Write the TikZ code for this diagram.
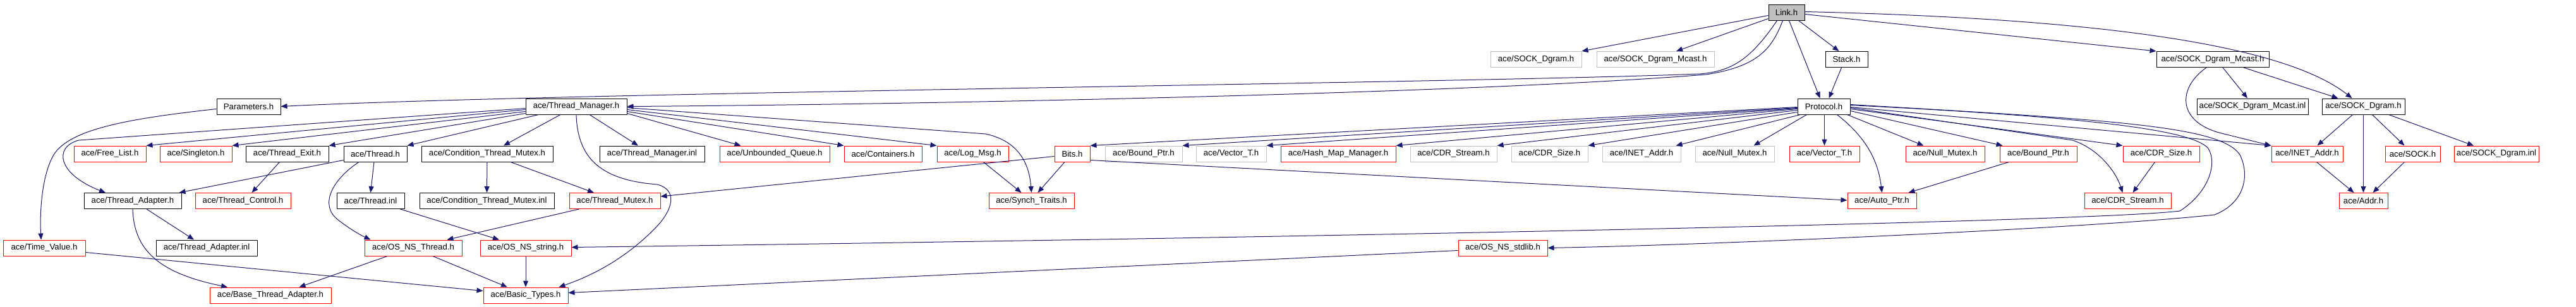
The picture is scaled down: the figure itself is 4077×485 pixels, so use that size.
\documentclass[tikz,border=0pt]{standalone}
\usepackage{fontspec}
\setmainfont{Liberation Sans}
\usetikzlibrary{arrows.meta}
\definecolor{edgec}{HTML}{191970}
\definecolor{graybd}{HTML}{BFBFBF}
\newcommand\nodefont{\fontsize{13.2pt}{15pt}\selectfont}
\newcommand\nd[6]{\node[#1, minimum width=#5pt] (#2) at (#3,#4) {#6};}
\tikzset{
  nb/.style={draw, rectangle, minimum height=25pt, inner sep=0pt, line width=1pt, font=\nodefont, text=black},
  blk/.style={nb, draw=black},
  rd/.style={nb, draw=red},
  gr/.style={nb, draw=graybd},
  cur/.style={nb, draw=black, fill=graybd},
  dep/.style={draw=edgec, line width=1pt, -{Triangle[length=10pt,width=8pt]}}
}
\begin{document}
\begin{tikzpicture}[x=1pt,y=-1pt]
\path[use as bounding box, fill=white] (0,0) rectangle (4077,485);
% row 0
\nd{cur}{link}{2827.5}{19.5}{57}{Link.h}
% row 1
\nd{gr}{sdgg}{2431}{94}{144}{ace/SOCK\_Dgram.h}
\nd{gr}{sdmg}{2620}{94}{186}{ace/SOCK\_Dgram\_Mcast.h}
\nd{blk}{stack}{2922.5}{94}{67}{Stack.h}
\nd{blk}{sdm}{3502}{94}{178}{ace/SOCK\_Dgram\_Mcast.h}
% row 2
\nd{blk}{params}{393.5}{168.5}{101}{Parameters.h}
\nd{blk}{tm}{912}{168.5}{160}{ace/Thread\_Manager.h}
\nd{blk}{proto}{2886.5}{168.5}{83}{Protocol.h}
\nd{blk}{sdminl}{3565}{168.5}{176}{ace/SOCK\_Dgram\_Mcast.inl}
\nd{blk}{sdg}{3740.5}{168.5}{131}{ace/SOCK\_Dgram.h}
% row 3
\nd{rd}{fl}{174}{243.5}{114}{ace/Free\_List.h}
\nd{rd}{sing}{310}{243.5}{114}{ace/Singleton.h}
\nd{blk}{texit}{454.5}{243.5}{131}{ace/Thread\_Exit.h}
\nd{blk}{thr}{594}{243.5}{100}{ace/Thread.h}
\nd{blk}{ctm}{771}{243.5}{208}{ace/Condition\_Thread\_Mutex.h}
\nd{blk}{tminl}{1032}{243.5}{166}{ace/Thread\_Manager.inl}
\nd{rd}{uq}{1226}{243.5}{174}{ace/Unbounded\_Queue.h}
\nd{rd}{cont}{1397.5}{243.5}{123}{ace/Containers.h}
\nd{rd}{log}{1539.5}{243.5}{113}{ace/Log\_Msg.h}
\nd{rd}{bits}{1697}{243.5}{56}{Bits.h}
\nd{gr}{bpg}{1810}{243.5}{122}{ace/Bound\_Ptr.h}
\nd{gr}{vtg}{1948.5}{243.5}{111}{ace/Vector\_T.h}
\nd{rd}{hmm}{2118}{243.5}{182}{ace/Hash\_Map\_Manager.h}
\nd{gr}{cdrsg}{2300.5}{243.5}{137}{ace/CDR\_Stream.h}
\nd{gr}{cdrzg}{2452.5}{243.5}{121}{ace/CDR\_Size.h}
\nd{gr}{inetg}{2598}{243.5}{124}{ace/INET\_Addr.h}
\nd{gr}{nmg}{2745.5}{243.5}{125}{ace/Null\_Mutex.h}
\nd{rd}{vt}{2887.5}{243.5}{111}{ace/Vector\_T.h}
\nd{rd}{nm}{3078.5}{243.5}{125}{ace/Null\_Mutex.h}
\nd{rd}{bp}{3226}{243.5}{122}{ace/Bound\_Ptr.h}
\nd{rd}{cdrz}{3420.5}{243.5}{121}{ace/CDR\_Size.h}
\nd{rd}{inet}{3651.5}{243.5}{113}{ace/INET\_Addr.h}
\nd{rd}{sock}{3818.5}{243.5}{87}{ace/SOCK.h}
\nd{rd}{sdginl}{3951}{243.5}{134}{ace/SOCK\_Dgram.inl}
% row 4
\nd{blk}{ta}{210}{318}{154}{ace/Thread\_Adapter.h}
\nd{rd}{tc}{384.5}{318}{151}{ace/Thread\_Control.h}
\nd{blk}{thrinl}{586.5}{318}{107}{ace/Thread.inl}
\nd{blk}{ctminl}{770.5}{318}{213}{ace/Condition\_Thread\_Mutex.inl}
\nd{rd}{tmx}{973}{318}{144}{ace/Thread\_Mutex.h}
\nd{rd}{st}{1632.5}{318}{135}{ace/Synch\_Traits.h}
\nd{rd}{ap}{2978.5}{318}{109}{ace/Auto\_Ptr.h}
\nd{rd}{cdrs}{3367.5}{318}{137}{ace/CDR\_Stream.h}
\nd{rd}{addr}{3740.5}{318}{77}{ace/Addr.h}
% row 5
\nd{rd}{tv}{70}{392.5}{130}{ace/Time\_Value.h}
\nd{blk}{tainl}{327}{392.5}{160}{ace/Thread\_Adapter.inl}
\nd{rd}{ost}{654}{392.5}{154}{ace/OS\_NS\_Thread.h}
\nd{rd}{oss}{832}{392.5}{144}{ace/OS\_NS\_string.h}
\nd{rd}{osl}{2378.5}{392.5}{141}{ace/OS\_NS\_stdlib.h}
% row 6
\nd{rd}{bta}{428}{467.5}{192}{ace/Base\_Thread\_Adapter.h}
\nd{rd}{bt}{832}{467.5}{134}{ace/Basic\_Types.h}

% ---- edges from Link.h
\draw[dep] ([yshift=-5pt]link.west) -- (sdgg.north east);
\draw[dep] ([yshift=-10pt]link.west) -- ([xshift=33pt]sdmg.north);
\draw[dep] ([xshift=-15pt]link.south) .. controls (2770,95) and (2740,113) .. (2690,117) .. controls (2300,132) and (900,146) .. (params.east);
\draw[dep] ([xshift=-6pt]link.south) .. controls (2805,75) and (2785,105) .. (2700,118) .. controls (2300,150) and (1400,166) .. (tm.east);
\draw[dep] ([xshift=4pt]link.south) -- ([xshift=-6pt]proto.north);
\draw[dep] ([xshift=-10pt]link.south east) -- ([xshift=-12pt]stack.north);
\draw[dep] ([yshift=-3pt]link.east) -- (sdm.north west);
\draw[dep] ([yshift=1pt]link.east) .. controls (3350,30) and (3620,75) .. ([xshift=-18pt]sdg.north);
\draw[dep] ([xshift=-8pt]stack.south) -- ([xshift=8pt]proto.north);
% ---- SOCK_Dgram_Mcast / SOCK_Dgram
\draw[dep] ([xshift=16pt]sdm.south) -- ([xshift=-8pt]sdminl.north);
\draw[dep] ([xshift=49pt]sdm.south) -- ([xshift=-40pt]sdg.north);
\draw[dep] ([xshift=-10pt]sdm.south) .. controls (3445,140) and (3445,195) .. (3520,212) -- (inet.north west);
\draw[dep] ([xshift=-17pt]sdg.south) -- ([xshift=16pt]inet.north);
\draw[dep] (sdg.south) -- (addr.north);
\draw[dep] ([xshift=14pt]sdg.south) -- ([xshift=-13pt]sock.north);
\draw[dep] ([xshift=40pt]sdg.south) -- ([xshift=-36pt]sdginl.north);
\draw[dep] ([xshift=15pt]inet.south) -- ([xshift=-15pt]addr.north);
\draw[dep] ([xshift=-13pt]sock.south) -- ([xshift=15pt]addr.north);
% ---- Protocol.h
\draw[dep] ([yshift=-1pt]proto.west) -- (bits.north east);
\draw[dep] ([yshift=-2pt]proto.west) -- (bpg.north east);
\draw[dep] ([yshift=-3pt]proto.west) -- (vtg.north east);
\draw[dep] ([yshift=-4pt]proto.west) -- (hmm.north east);
\draw[dep] ([yshift=-6pt]proto.west) -- (cdrsg.north east);
\draw[dep] ([yshift=-9pt]proto.west) -- (cdrzg.north east);
\draw[dep] ([xshift=5pt]proto.south west) -- ([xshift=-8pt]inetg.north east);
\draw[dep] ([xshift=15pt]proto.south west) -- ([xshift=-33pt]nmg.north east);
\draw[dep] ([xshift=1pt]proto.south) -- (vt.north);
\draw[dep] ([xshift=21pt]proto.south) .. controls (2950,215) and (2972,250) .. (ap.north);
\draw[dep] ([xshift=-5pt]proto.south east) -- ([xshift=29pt]nm.north west);
\draw[dep] ([yshift=-7pt]proto.east) -- ([xshift=5pt]bp.north west);
\draw[dep] ([yshift=-4pt]proto.east) -- (cdrz.north west);
\draw[dep] ([yshift=-2pt]proto.east) -- (3280,222) .. controls (3320,235) and (3348,270) .. ([xshift=-8pt]cdrs.north);
\draw[dep] ([yshift=-1pt]proto.east) -- (inet.north west);
\draw[dep] ([yshift=2pt]proto.east) .. controls (3300,185) and (3470,205) .. (3495,235) .. controls (3510,260) and (3495,305) .. (3450,334) .. controls (3300,352) and (2000,377) .. ([yshift=1pt]oss.east);
\draw[dep] ([yshift=3pt]proto.east) .. controls (3350,190) and (3515,200) .. (3545,245) .. controls (3560,275) and (3555,320) .. (3505,340) .. controls (3300,362) and (2700,388) .. (osl.east);
\draw[dep] ([xshift=-10pt]cdrz.south) -- ([xshift=8pt]cdrs.north);
\draw[dep] ([xshift=15pt]bp.south west) -- ([xshift=-13pt]ap.north east);
% ---- Thread_Manager.h
\draw[dep] ([yshift=-3pt]tm.west) -- (125,222) .. controls (85,232) and (90,275) .. ([xshift=-43pt]ta.north);
\draw[dep] ([yshift=-5pt]tm.west) -- (fl.north east);
\draw[dep] ([yshift=-8pt]tm.west) -- (sing.north east);
\draw[dep] ([yshift=-11pt]tm.west) -- (texit.north east);
\draw[dep] ([xshift=21pt]tm.south west) -- (thr.north east);
\draw[dep] ([xshift=-25pt]tm.south) -- ([xshift=26pt]ctm.north);
\draw[dep] ([xshift=21pt]tm.south) -- ([xshift=-22pt]tminl.north);
\draw[dep] (tm.south) .. controls (914,250) and (950,285) .. (1040,292) .. controls (1072,300) and (1066,330) .. (1040,358) .. controls (1000,400) and (950,432) .. ([xshift=-15pt]bt.north east);
\draw[dep] ([yshift=-11pt]tm.east) -- ([xshift=34pt]uq.north west);
\draw[dep] ([yshift=-8pt]tm.east) -- (cont.north west);
\draw[dep] ([yshift=-5pt]tm.east) -- (log.north west);
\draw[dep] ([yshift=-2pt]tm.east) -- (1560,212) .. controls (1605,222) and (1628,250) .. (st.north);
% ---- others
\draw[dep] (ctm) -- (ctminl);
\draw[dep] ([xshift=37pt]ctm.south) -- ([xshift=-33pt]tmx.north);
\draw[dep] ([yshift=-4pt]bits.west) -- ([yshift=7pt]tmx.east);
\draw[dep] ([xshift=-2pt]thr.south) -- (thrinl.north);
\draw[dep] ([xshift=-26pt]thr.south) .. controls (525,285) and (505,325) .. (535,348) .. controls (550,360) and (570,372) .. ([xshift=10pt]ost.north west);
\draw[dep] ([yshift=-10pt]thr.west) -- ([xshift=-4pt]ta.north east);
\draw[dep] ([xshift=-12pt]texit.south) -- ([xshift=14pt]tc.north);
\draw[dep] ([xshift=22pt]ta.south) -- ([xshift=-20pt]tainl.north);
\draw[dep] (ta.south) .. controls (212,395) and (250,432) .. ([xshift=-68pt]bta.north);
\draw[dep] ([xshift=-7pt]thrinl.south east) -- ([xshift=-42pt]oss.north);
\draw[dep] ([xshift=16pt]tmx.south west) -- ([xshift=-24pt]ost.north east);
\draw[dep] ([xshift=31pt]ost.south) -- ([xshift=-29pt]bt.north);
\draw[dep] ([xshift=-41pt]ost.south) -- ([xshift=-51pt]bta.north east);
\draw[dep] (oss) -- (bt);
\draw[dep] ([yshift=-7pt]tv.east) -- ([yshift=7pt]bt.west);
\draw[dep] ([yshift=-4pt]params.west) .. controls (200,188) and (110,205) .. (85,245) .. controls (65,280) and (63,340) .. ([xshift=-5pt]tv.north);
\draw[dep] ([xshift=17pt]log.south) -- ([xshift=-16pt]st.north);
\draw[dep] ([xshift=-12pt]bits.south) -- ([xshift=10pt]st.north);
\draw[dep] ([yshift=-10pt]bits.east) -- ([yshift=1pt]ap.west);
\draw[dep] ([yshift=-4pt]osl.west) -- ([yshift=4pt]bt.east);
\end{tikzpicture}
\end{document}
